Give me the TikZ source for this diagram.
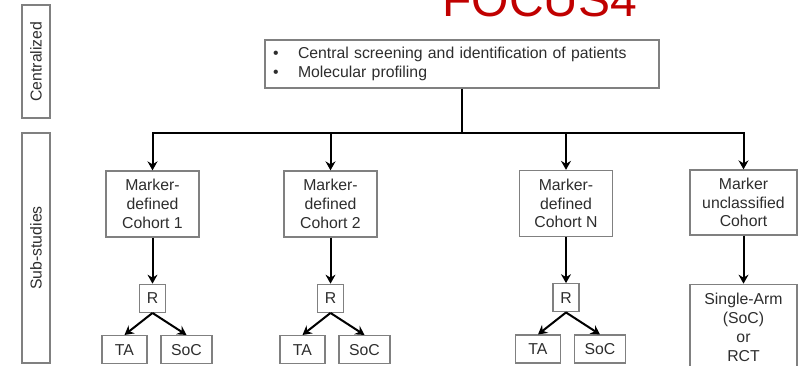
\documentclass[tikz,border=0pt]{standalone}
\usepackage{fontspec}
\setmainfont{Liberation Sans}
\usepackage{xcolor}
\usetikzlibrary{positioning}
\usetikzlibrary{arrows.meta}
\definecolor{focusred}{RGB}{192,0,0}
\definecolor{boxgray}{RGB}{128,128,128}
\definecolor{textgray}{RGB}{45,45,45}

\begin{document}
\begin{tikzpicture}[x=1pt, y=-1pt, ->, >={Stealth[length=9pt, width=10pt, inset=3pt]}, line width=2pt, font=\fontsize{15.8}{18.8}\selectfont, text=textgray]
		\tikzstyle{block}=[draw=boxgray, line width=1.3pt, rectangle, align=center, inner sep=0pt]
		\tikzstyle{side}=[block, rotate=90, minimum height=28pt]
		\tikzstyle{cohort}=[block, minimum width=93pt, minimum height=66pt]
		\tikzstyle{small}=[block, minimum height=28pt]
		
		\useasboundingbox (0,0) rectangle (800,365);
		\clip (0,0) rectangle (800,365);
		
		\node[text=focusred, font=\fontsize{48}{58}\selectfont, anchor=base] (title) at (540,16) {FOCUS4};
		
		\node[side, minimum width=113pt] (central) at (36,61.5) {Centralized};
		\node[side, minimum width=230pt] (sub) at (36,248) {Sub-studies};
		
		\node[block, minimum width=394pt, minimum height=48pt, text width=378pt, align=left] (screen) at (462,64) {\makebox[25pt][l]{\textbullet}Central screening and identification of patients\\\makebox[25pt][l]{\textbullet}Molecular profiling};
		\coordinate (bus) at (462,133);
		
		\node[cohort] (c1) at (152.5,204) {Marker-\\defined\\Cohort 1};
		\node[cohort] (c2) at (330.5,204) {Marker-\\defined\\Cohort 2};
		\node[cohort] (cn) at (566,203.5) {Marker-\\defined\\Cohort N};
		\node[cohort, minimum width=107pt, minimum height=65pt] (cu) at (743.5,202.5) {Marker\\unclassified\\Cohort};
		
		\node[small, minimum width=26pt, below=46pt of c1] (r1) {R};
		\node[small, minimum width=26pt, below=46pt of c2] (r2) {R};
		\node[small, minimum width=26pt, below=46pt of cn] (rn) {R};
		\node[block, minimum width=107pt, minimum height=86pt, below=48pt of cu] (single) {Single-Arm\\(SoC)\\or\\RCT};
		
		\node[small, minimum width=45pt, below=22pt of r1, xshift=-28pt] (ta1) {TA};
		\node[small, minimum width=51pt, below=22pt of r1, xshift=34pt] (soc1) {SoC};
		\node[small, minimum width=45pt, below=22pt of r2, xshift=-28pt] (ta2) {TA};
		\node[small, minimum width=51pt, below=22pt of r2, xshift=34pt] (soc2) {SoC};
		\node[small, minimum width=45pt, below=22pt of rn, xshift=-28pt] (tan) {TA};
		\node[small, minimum width=51pt, below=22pt of rn, xshift=34pt] (socn) {SoC};
		
		\draw[-] (screen.south) -- (bus);
		\draw (bus) -| (c1.north);
		\draw (bus) -| (cu.north);
		\draw (bus -| c2.north) -- (c2.north);
		\draw (bus -| cn.north) -- (cn.north);
		
		\draw (c1) -- (r1);
		\draw (c2) -- (r2);
		\draw (cn) -- (rn);
		\draw (cu) -- (single);
		
		\draw (r1.south) -- (ta1.north);
		\draw (r1.south) -- (soc1.north);
		\draw (r2.south) -- (ta2.north);
		\draw (r2.south) -- (soc2.north);
		\draw (rn.south) -- (tan.north);
		\draw (rn.south) -- (socn.north);
\end{tikzpicture}
\end{document}
